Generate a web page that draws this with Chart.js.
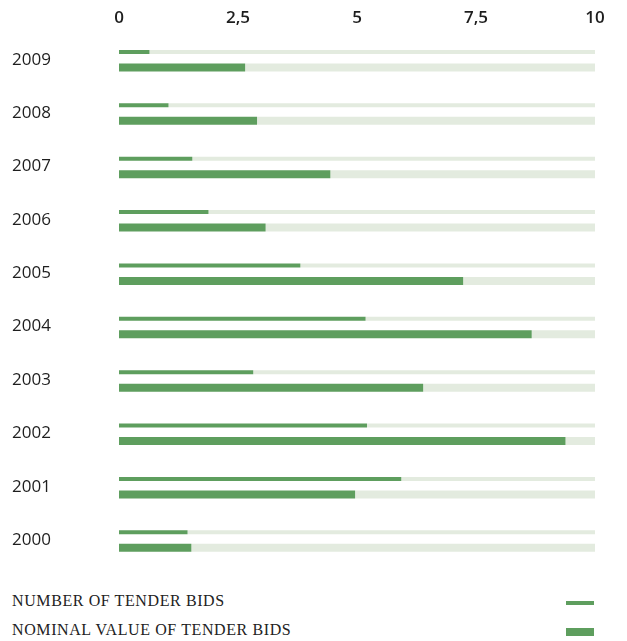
<!DOCTYPE html>
<html>
<head>
<meta charset="utf-8">
<script src="https://cdn.jsdelivr.net/npm/chart.js@4.4.1/dist/chart.umd.min.js"></script>
<style>
  html, body { margin: 0; padding: 0; background: #fff; }
  #wrap { position: relative; width: 627px; height: 641px; }
  #box { position: absolute; left: 0; top: 0; width: 627px; height: 580px; }
  .legend-row {
    position: absolute; left: 12px; width: 582px; height: 20px;
    font-family: "Liberation Serif", serif; font-size: 16px; letter-spacing: 0.6px;
    color: #222;
  }
  .legend-row span { position: absolute; left: 0; bottom: 0; line-height: 20px; }
  .legend-row i { position: absolute; right: 0; width: 28px; background: #5e9e5e; }
</style>
</head>
<body>
<div id="wrap">
  <div id="box"><canvas id="bids"></canvas></div>
  <div class="legend-row" style="top:591px"><span>NUMBER OF TENDER BIDS</span><i style="top:10px;height:4px"></i></div>
  <div class="legend-row" style="top:620px"><span>NOMINAL VALUE OF TENDER BIDS</span><i style="top:8px;height:8px"></i></div>
</div>
<script>
const years = ['2009', '2008', '2007', '2006', '2005', '2004', '2003', '2002', '2001', '2000'];
const numberOfBids = [0.64, 1.04, 1.54, 1.88, 3.81, 5.18, 2.82, 5.21, 5.93, 1.44];
const nominalValue = [2.65, 2.90, 4.44, 3.08, 7.23, 8.67, 6.39, 9.38, 4.96, 1.52];
const axisMax = 10;
const axisTicks = [0, 2.5, 5, 7.5, 10];

const green = '#5e9e5e';
const track = '#e3ebdf';

// remainder of each bar up to the axis maximum, stacked on top as a pale track
const rest = arr => arr.map(v => axisMax - v);

const bidsChart = new Chart(
  document.getElementById('bids'),
  {
    type: 'bar',
    data: {
      labels: years,
      datasets: [
        { label: 'Number of tender bids', data: numberOfBids, stack: 'n', backgroundColor: green, maxBarThickness: 4 },
        { label: 'rest-n', data: rest(numberOfBids), stack: 'n', backgroundColor: track, maxBarThickness: 4 },
        { label: 'Nominal value of tender bids', data: nominalValue, stack: 'v', backgroundColor: green, maxBarThickness: 8 },
        { label: 'rest-v', data: rest(nominalValue), stack: 'v', backgroundColor: track, maxBarThickness: 8 }
      ]
    },
    options: {
      indexAxis: 'y',
      responsive: true,
      maintainAspectRatio: false,
      animation: false,
      layout: { padding: { left: 12, right: 32, top: 1, bottom: 11 } },
      datasets: { bar: { categoryPercentage: 0.58, barPercentage: 1, borderWidth: 0 } },
      plugins: { legend: { display: false }, tooltip: { enabled: false } },
      scales: {
        x: {
          position: 'top',
          stacked: true,
          min: 0,
          max: axisMax,
          afterBuildTicks: s => { s.ticks = axisTicks.map(v => ({ value: v })); },
          afterFit: s => { s.height = 32; },
          grid: { display: false, drawTicks: false },
          border: { display: false },
          ticks: {
            padding: 5,
            color: '#1e1e1e',
            font: { family: 'Open Sans', size: 17, weight: '600' },
            callback: v => String(v).replace('.', ',')
          }
        },
        y: {
          stacked: true,
          afterFit: s => { s.width = 107; },
          grid: { display: false, drawTicks: false },
          border: { display: false },
          ticks: {
            crossAlign: 'far',
            color: '#1e1e1e',
            font: { family: 'Open Sans', size: 17 }
          }
        }
      }
    }
  }
);
</script>
</body>
</html>
